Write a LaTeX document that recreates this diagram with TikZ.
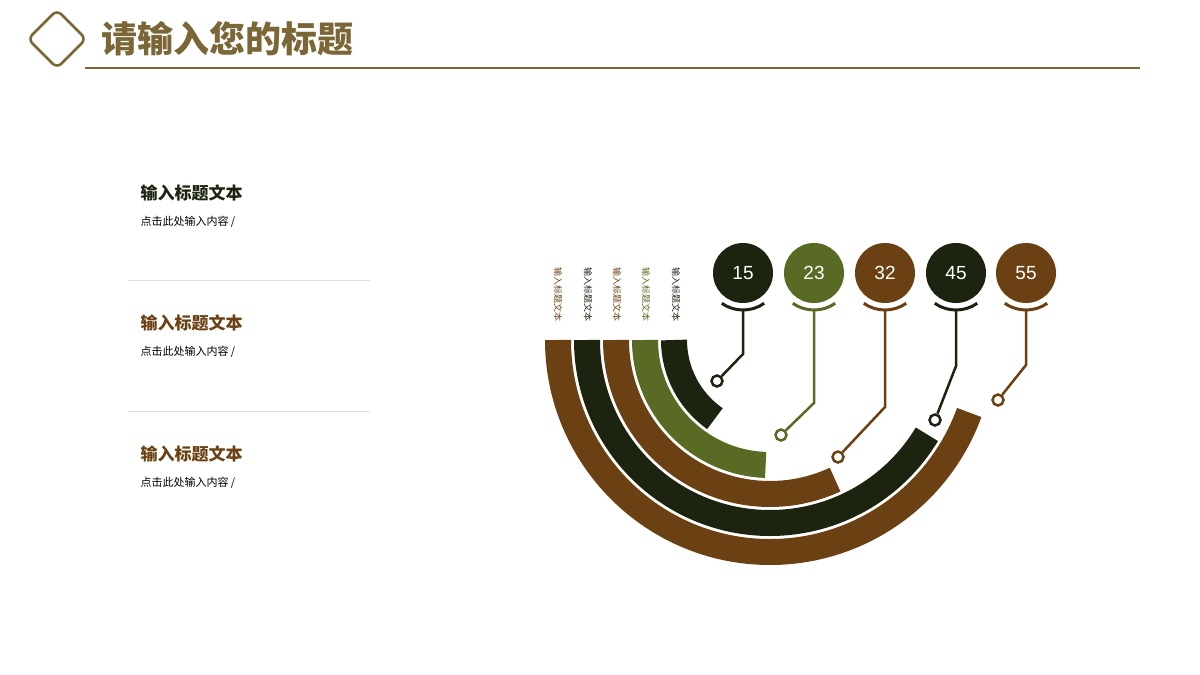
\documentclass[tikz,border=0pt]{standalone}
\usepackage{fontspec}
\newfontfamily\cjk{Noto Sans CJK SC}
\setmainfont{Liberation Sans}
\usetikzlibrary{calc}
\definecolor{dk}{HTML}{1C2410}
\definecolor{gr}{HTML}{586A23}
\definecolor{br}{HTML}{6B4113}
\definecolor{ti}{HTML}{7A6636}
\begin{document}
\begin{tikzpicture}[x=1pt,y=-1pt,
  band/.style={line width=26pt},
  num/.style={circle,minimum size=60pt,inner sep=0,text=white,font=\fontsize{19}{19}\selectfont},
  vl/.style={rotate=-90,anchor=west,font=\cjk\fontsize{9}{9}\selectfont},
  ring/.style={circle,draw,line width=2.5pt,fill=white,minimum size=11pt,inner sep=0},
  stem/.style={line width=2.5pt}]
\useasboundingbox (0,0) rectangle (1200,675);
% header
\draw[ti,line width=2.5pt,rounded corners=6pt] (57,10) -- (86,39) -- (57,68) -- (28,39) -- cycle;
\node[anchor=west,text=ti,font=\cjk\bfseries\fontsize{36}{36}\selectfont] (title) at (98,39) {请输入您的标题};
\draw[ti,line width=2pt] (85,68) -- (1140,68);
% left texts
\node[anchor=west,text=dk,font=\cjk\bfseries\fontsize{17}{17}\selectfont] (h1) at (137,193) {输入标题文本};
\node[anchor=west,font=\cjk\fontsize{11}{11}\selectfont] (s1) at (137,222) {点击此处输入内容 /};
\node[anchor=west,text=br,font=\cjk\bfseries\fontsize{17}{17}\selectfont] (h2) at (137,323) {输入标题文本};
\node[anchor=west,font=\cjk\fontsize{11}{11}\selectfont] (s2) at (137,352) {点击此处输入内容 /};
\node[anchor=west,text=br,font=\cjk\bfseries\fontsize{17}{17}\selectfont] (h3) at (137,454) {输入标题文本};
\node[anchor=west,font=\cjk\fontsize{11}{11}\selectfont] (s3) at (137,483) {点击此处输入内容 /};
\draw[black!12,line width=0.8pt] (128,280) -- (370,280);
\draw[black!12,line width=0.8pt] (128,411) -- (370,411);
% arcs
\coordinate (c) at (770,340);
\draw[band,br] ($(c)+(180:212)$) arc[start angle=180,end angle=20,radius=212];
\draw[band,dk] ($(c)+(180:183)$) arc[start angle=180,end angle=31,radius=183];
\draw[band,br] ($(c)+(180:154)$) arc[start angle=180,end angle=65,radius=154];
\draw[band,gr] ($(c)+(180:125)$) arc[start angle=180,end angle=92,radius=125];
\draw[band,dk] ($(c)+(180:96)$) arc[start angle=180,end angle=125,radius=96];
% vertical labels
\node[vl,text=br] (v1) at (558,264) {输入标题文本};
\node[vl,text=dk] (v2) at (588,264) {输入标题文本};
\node[vl,text=br] (v3) at (617,264) {输入标题文本};
\node[vl,text=gr] (v4) at (646,264) {输入标题文本};
\node[vl,text=dk] (v5) at (676,264) {输入标题文本};
% circles
\foreach \n/\x/\col/\t in {a/743/dk/15,b/814/gr/23,c2/885/br/32,d/956/dk/45,e/1026/br/55}{
  \node[num,fill=\col] (\n) at (\x,273) {\t};
  \draw[\col,line width=3pt] ($(\n)+(55:37)$) arc[start angle=55,end angle=125,radius=37];
}
\node[ring,draw=dk] (ra) at (717,381) {};
\node[ring,draw=gr] (rb) at (781,435) {};
\node[ring,draw=br] (rc) at (838,457) {};
\node[ring,draw=dk] (rd) at (935,420) {};
\node[ring,draw=br] (re) at (998,400) {};
\draw[stem,dk] ($(a)+(0,37)$) -- (743,354) -- (ra);
\draw[stem,gr] ($(b)+(0,37)$) -- (814,403) -- (rb);
\draw[stem,br] ($(c2)+(0,37)$) -- (885,407) -- (rc);
\draw[stem,dk] ($(d)+(0,37)$) -- (956,366) -- (rd);
\draw[stem,br] ($(e)+(0,37)$) -- (1026,365) -- (re);
\end{tikzpicture}
\end{document}
